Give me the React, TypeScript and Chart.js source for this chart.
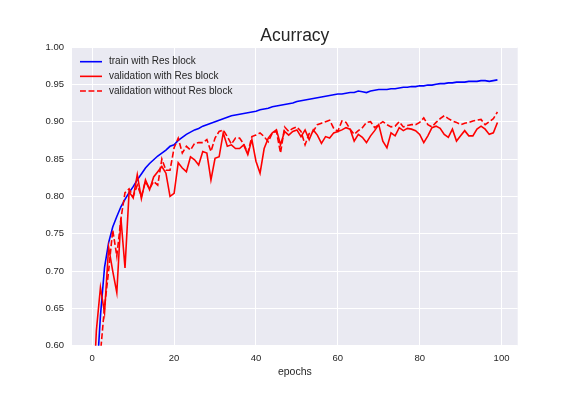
import React, { useEffect, useRef } from "react";
import { Chart, registerables } from "chart.js";

Chart.register(...registerables);

// ---- data ----
const epochs: number[] = Array.from({ length: 100 }, (_, i) => i);

const trainRes: number[] = [
  0.45, 0.55, 0.64, 0.705, 0.738, 0.759, 0.773, 0.786, 0.796, 0.805,
  0.813, 0.822, 0.83, 0.838, 0.844, 0.849, 0.854, 0.858, 0.862, 0.867,
  0.869, 0.875, 0.879, 0.883, 0.886, 0.889, 0.891, 0.894, 0.896, 0.898,
  0.9, 0.902, 0.904, 0.906, 0.908, 0.909, 0.91, 0.911, 0.912, 0.913,
  0.914, 0.916, 0.917, 0.918, 0.92, 0.921, 0.922, 0.923, 0.924, 0.925,
  0.927, 0.928, 0.929, 0.93, 0.931, 0.932, 0.933, 0.934, 0.935, 0.936,
  0.937, 0.937, 0.938, 0.939, 0.939, 0.941, 0.94, 0.939, 0.941, 0.942,
  0.943, 0.943, 0.943, 0.944, 0.944, 0.945, 0.946, 0.946, 0.947, 0.947,
  0.948, 0.948, 0.949, 0.949, 0.95, 0.951, 0.951, 0.952, 0.952, 0.953,
  0.953, 0.953, 0.954, 0.954, 0.954, 0.955, 0.955, 0.954, 0.955, 0.956,
];

const valRes: number[] = [
  0.5, 0.62, 0.678, 0.644, 0.732, 0.7, 0.671, 0.771, 0.704, 0.806,
  0.798, 0.829, 0.797, 0.822, 0.809, 0.826, 0.833, 0.84, 0.831, 0.8,
  0.804, 0.845, 0.838, 0.833, 0.853, 0.849, 0.842, 0.86, 0.858, 0.822,
  0.851, 0.853, 0.885, 0.867, 0.869, 0.864, 0.864, 0.869, 0.856, 0.876,
  0.847, 0.831, 0.864, 0.878, 0.885, 0.889, 0.869, 0.887, 0.882, 0.887,
  0.889, 0.88, 0.889, 0.876, 0.889, 0.882, 0.871, 0.88, 0.878, 0.885,
  0.887, 0.889, 0.892, 0.89, 0.874, 0.883, 0.879, 0.872, 0.881, 0.888,
  0.896, 0.874, 0.865, 0.885, 0.881, 0.892, 0.888, 0.891, 0.89, 0.888,
  0.883, 0.872, 0.881, 0.892, 0.894, 0.891, 0.883, 0.879, 0.89, 0.874,
  0.881, 0.888, 0.881, 0.881, 0.89, 0.894, 0.89, 0.883, 0.885, 0.899,
];

const valNoRes: number[] = [
  0.45, 0.52, 0.59, 0.652, 0.7, 0.755, 0.72, 0.77, 0.805, 0.81,
  0.8, 0.815, 0.8, 0.82, 0.81, 0.82, 0.815, 0.85, 0.835, 0.835,
  0.865, 0.878, 0.858, 0.867, 0.862, 0.871, 0.872, 0.872, 0.876, 0.86,
  0.878, 0.887, 0.889, 0.88, 0.87, 0.878, 0.878, 0.87, 0.858, 0.88,
  0.882, 0.885, 0.88, 0.873, 0.885, 0.887, 0.858, 0.893, 0.887, 0.891,
  0.893, 0.887, 0.869, 0.884, 0.887, 0.896, 0.898, 0.9, 0.902, 0.891,
  0.887, 0.901, 0.899, 0.89, 0.883, 0.888, 0.892, 0.899, 0.9, 0.892,
  0.896, 0.9, 0.896, 0.893, 0.894, 0.9, 0.893, 0.895, 0.896, 0.896,
  0.899, 0.905, 0.896, 0.893, 0.899, 0.904, 0.908, 0.904, 0.901, 0.899,
  0.896, 0.898, 0.899, 0.901, 0.902, 0.903, 0.896, 0.9, 0.904, 0.913,
];

const seriesLabels: string[] = [
  "train with Res block",
  "validation with Res block",
  "validation without Res block",
];

const xTicks: number[] = [0, 20, 40, 60, 80, 100];
const yTicks: number[] = [0.6, 0.65, 0.7, 0.75, 0.8, 0.85, 0.9, 0.95, 1.0];

const FONT = '"Liberation Sans", Arial, Helvetica, sans-serif';
const TEXT = "#262626";

const plotBg = {
  id: "plotBg",
  beforeDraw(chart: any) {
    const { ctx, chartArea } = chart;
    ctx.save();
    ctx.fillStyle = "#ffffff";
    ctx.fillRect(0, 0, chart.width, chart.height);
    ctx.fillStyle = "#EAEAF2";
    ctx.fillRect(chartArea.left, chartArea.top, chartArea.width, chartArea.height);
    ctx.restore();
  },
};

const mplLegend = {
  id: "mplLegend",
  afterDatasetsDraw(chart: any) {
    const { ctx, chartArea } = chart;
    const x0 = chartArea.left + 8;
    const lineW = 22;
    const y0 = chartArea.top + 14.7;
    const step = 14.65;
    ctx.save();
    chart.data.datasets.forEach((ds: any, i: number) => {
      const y = y0 + i * step;
      ctx.strokeStyle = ds.borderColor;
      ctx.lineWidth = ds.borderWidth;
      ctx.setLineDash(ds.borderDash || []);
      ctx.beginPath();
      ctx.moveTo(x0, y);
      ctx.lineTo(x0 + lineW, y);
      ctx.stroke();
      ctx.setLineDash([]);
      ctx.fillStyle = TEXT;
      ctx.font = `10px ${FONT}`;
      ctx.textBaseline = "middle";
      ctx.textAlign = "left";
      ctx.fillText(ds.label, x0 + 29, y);
    });
    ctx.restore();
  },
};

export default function App() {
  const ref = useRef<HTMLCanvasElement | null>(null);

  useEffect(() => {
    if (!ref.current) return;
    const mk = (vals: number[]) => epochs.map((e, i) => ({ x: e, y: vals[i] }));
    const chart = new Chart(ref.current, {
      type: "line",
      data: {
        datasets: [
          {
            label: seriesLabels[0],
            data: mk(trainRes),
            borderColor: "#0000ff",
            borderWidth: 1.6,
            pointRadius: 0,
            tension: 0,
            clip: 0,
            order: 3,
          },
          {
            label: seriesLabels[1],
            data: mk(valRes),
            borderColor: "#ff0000",
            borderWidth: 1.6,
            pointRadius: 0,
            tension: 0,
            clip: 0,
            order: 2,
          },
          {
            label: seriesLabels[2],
            data: mk(valNoRes),
            borderColor: "#ff0000",
            borderWidth: 1.6,
            borderDash: [5.9, 2.6],
            pointRadius: 0,
            tension: 0,
            clip: 0,
            order: 1,
          },
        ],
      },
      options: {
        responsive: false,
        animation: false,
        events: [],
        layout: { padding: { left: 0, right: 58.3, top: 0, bottom: 0 } },
        plugins: {
          legend: { display: false },
          tooltip: { enabled: false },
          title: {
            display: true,
            text: "Acurracy",
            color: TEXT,
            fullSize: false,
            font: { family: FONT, size: 17.5, weight: "normal" },
            padding: { top: 25.2, bottom: 0.8 },
          },
        },
        scales: {
          x: {
            type: "linear",
            min: -4.95,
            max: 103.95,
            afterBuildTicks: (s: any) => {
              s.ticks = xTicks.map((v) => ({ value: v }));
            },
            afterFit: (s: any) => {
              s.height = 50.3;
            },
            grid: { color: "#ffffff", lineWidth: 1, drawTicks: false },
            border: { display: false },
            ticks: {
              color: TEXT,
              font: { family: FONT, size: 9.5 },
              padding: 6.5,
              maxRotation: 0,
              callback: (v: any) => String(v),
            },
            title: {
              display: true,
              text: "epochs",
              color: TEXT,
              font: { family: FONT, size: 10.5 },
              padding: { top: 0, bottom: 18 },
            },
          },
          y: {
            type: "linear",
            min: 0.6,
            max: 1.0,
            afterBuildTicks: (s: any) => {
              s.ticks = yTicks.map((v) => ({ value: v }));
            },
            afterFit: (s: any) => {
              s.width = 72;
            },
            grid: { color: "#ffffff", lineWidth: 1, drawTicks: false },
            border: { display: false },
            ticks: {
              color: TEXT,
              font: { family: FONT, size: 9.5 },
              padding: 8,
              callback: (v: any) => Number(v).toFixed(2),
            },
          },
        },
      },
      plugins: [plotBg, mplLegend],
    } as any);
    return () => chart.destroy();
  }, []);

  return (
    <div style={{ position: "fixed", left: 0, top: 0, width: 576, height: 396 }}>
      <canvas ref={ref} width={576} height={396} style={{ display: "block" }} />
    </div>
  );
}
